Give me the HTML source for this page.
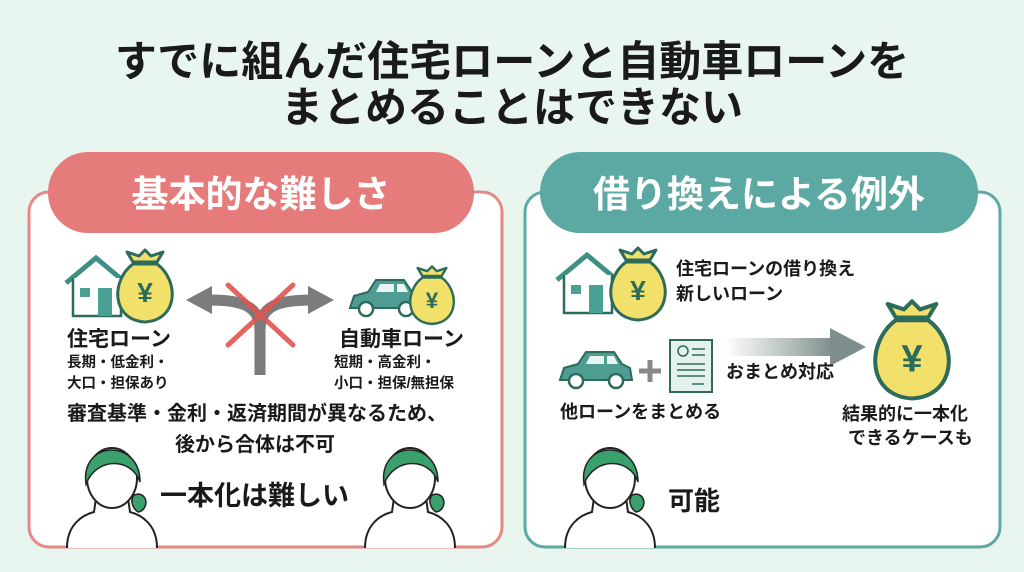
<!DOCTYPE html>
<html><head><meta charset="utf-8"><style>
html,body{margin:0;padding:0;background:#e9f6f0;}
svg{display:block}
text{font-family:"Liberation Sans","Noto Sans CJK JP",sans-serif;font-weight:bold;fill:#1a1a1a}
</style></head><body>
<svg width="1024" height="572" viewBox="0 0 1024 572" xmlns="http://www.w3.org/2000/svg">
<defs>
<linearGradient id="ag" x1="0" x2="1"><stop offset="0" stop-color="#8a9a98" stop-opacity="0"/><stop offset="1" stop-color="#7d8e8c"/></linearGradient>
<g id="bag">
<path d="M-12,-30 L-18,-40 L-6,-36 L0,-42 L6,-36 L18,-40 L12,-30 Z" fill="#f1e06a" stroke="#2d6b5a" stroke-width="3" stroke-linejoin="round"/>
<path d="M-12,-28 C-34,-12 -34,28 0,30 C34,28 34,-12 12,-28 Z" fill="#f1e06a" stroke="#2d6b5a" stroke-width="3"/>
<text x="0" y="10" text-anchor="middle" font-size="28" style="fill:#2d6b5a">¥</text>
</g>
<g id="house">
<path d="M0,25 L30,0 L60,25" fill="none" stroke="#3f8f84" stroke-width="5"/>
<path d="M7,20 V58 H55 V20" fill="#fff" stroke="#2d6b5a" stroke-width="2.5"/>
<rect x="14" y="30" width="10" height="9" fill="#4aa093"/>
<rect x="32" y="30" width="14" height="28" fill="#4aa093"/>
</g>
<g id="car">
<path d="M0,30 L4,18 L18,14 L26,2 H54 L62,14 L70,18 L72,30 Z" fill="#4f9c93" stroke="#2d6b5a" stroke-width="2"/>
<path d="M30,6 H44 V14 H26 Z M47,6 H54 L58,14 H47 Z" fill="#e8f5f2"/>
<circle cx="16" cy="31" r="7" fill="#fff" stroke="#2d6b5a" stroke-width="2.5"/>
<circle cx="56" cy="31" r="7" fill="#fff" stroke="#2d6b5a" stroke-width="2.5"/>
</g>
<g id="person">
<path d="M-45,58 C-45,35 -30,25 -18,22 L-16,8 H16 L18,22 C30,25 45,35 45,58" fill="#fff" stroke="#222" stroke-width="2"/>
<ellipse cx="0" cy="-12" rx="25" ry="30" fill="#fff" stroke="#222" stroke-width="2"/>
<path d="M-26,-6 C-32,-50 28,-52 28,-8 C20,-32 -15,-34 -26,-6 Z" fill="#3aa06c" stroke="#222" stroke-width="1.5"/>
<path d="M22,5 C36,0 38,20 26,22 C20,18 18,10 22,5Z" fill="#3aa06c" stroke="#222" stroke-width="1.5"/>
</g>
</defs>

<text x="512" y="76" text-anchor="middle" font-size="42">すでに組んだ住宅ローンと自動車ローンを</text>
<text x="512" y="122" text-anchor="middle" font-size="42">まとめることはできない</text>

<!-- left panel -->
<rect x="29" y="192" width="473" height="355" rx="20" fill="#fff" stroke="#e38a87" stroke-width="3"/>
<rect x="48" y="152" width="426" height="81" rx="40" fill="#e57c7b"/>
<text x="261" y="207" text-anchor="middle" font-size="37" style="fill:#fff">基本的な難しさ</text>

<use href="#house" x="66" y="258"/>
<use href="#bag" x="145" y="292"/>
<path d="M260,375 V330 C260,305 240,300 210,300" fill="none" stroke="#7b7b7b" stroke-width="11"/>
<path d="M260,330 C260,305 280,300 312,300" fill="none" stroke="#7b7b7b" stroke-width="11"/>
<polygon points="186,300 212,286 212,314" fill="#7b7b7b"/>
<polygon points="334,300 308,286 308,314" fill="#7b7b7b"/>
<path d="M228,285 L293,345 M293,285 L228,345" stroke="#e2544f" stroke-width="5" stroke-linecap="round" opacity="0.9"/>
<use href="#car" x="350" y="278"/>
<use href="#bag" x="432" y="300" transform="translate(432 300) scale(0.8) translate(-432 -300)"/>

<text x="67" y="346" font-size="21">住宅ローン</text>
<text x="67" y="367" font-size="14.5">長期・低金利・</text>
<text x="67" y="388" font-size="14.5">大口・担保あり</text>
<text x="339" y="346" font-size="21">自動車ローン</text>
<text x="334" y="367" font-size="14.5">短期・高金利・</text>
<text x="334" y="388" font-size="14.5">小口・担保/無担保</text>
<text x="67" y="420" font-size="20">審査基準・金利・返済期間が異なるため、</text>
<text x="255" y="451" text-anchor="middle" font-size="20">後から合体は不可</text>

<use href="#person" x="112" y="490"/>
<use href="#person" x="410" y="490"/>
<text x="160" y="505" font-size="27">一本化は難しい</text>

<!-- right panel -->
<rect x="525" y="192" width="475" height="355" rx="20" fill="#fff" stroke="#5ea9a3" stroke-width="3"/>
<rect x="540" y="152" width="438" height="81" rx="40" fill="#5ca8a2"/>
<text x="759" y="207" text-anchor="middle" font-size="37" style="fill:#fff">借り換えによる例外</text>

<use href="#house" x="557" y="255"/>
<use href="#bag" x="638" y="290"/>
<text x="676" y="275" font-size="18">住宅ローンの借り換え</text>
<text x="676" y="300" font-size="18">新しいローン</text>

<use href="#car" x="560" y="350"/>
<path d="M650,360 V382 M639,371 H661" stroke="#888" stroke-width="5"/>
<rect x="670" y="340" width="42" height="52" fill="#e4f1ee" stroke="#2d6b5a" stroke-width="2"/>
<circle cx="683" cy="351" r="5" fill="none" stroke="#2d6b5a" stroke-width="1.5"/>
<path d="M692,349 H705 M692,355 H705 M677,364 H705 M677,370 H705 M677,376 H705 M692,384 H704" stroke="#2d6b5a" stroke-width="1.5"/>
<rect x="725" y="338" width="108" height="18" fill="url(#ag)"/>
<polygon points="830,328 866,347 830,366" fill="#7d8e8c"/>
<text x="726" y="378" font-size="18">おまとめ対応</text>
<use href="#bag" x="912" y="358" transform="translate(912 358) scale(1.35) translate(-912 -358)"/>
<text x="560" y="418" font-size="18">他ローンをまとめる</text>
<text x="842" y="420" font-size="18">結果的に一本化</text>
<text x="848" y="444" font-size="18">できるケースも</text>

<use href="#person" x="610" y="490"/>
<text x="668" y="510" font-size="26">可能</text>
</svg>
</body></html>
